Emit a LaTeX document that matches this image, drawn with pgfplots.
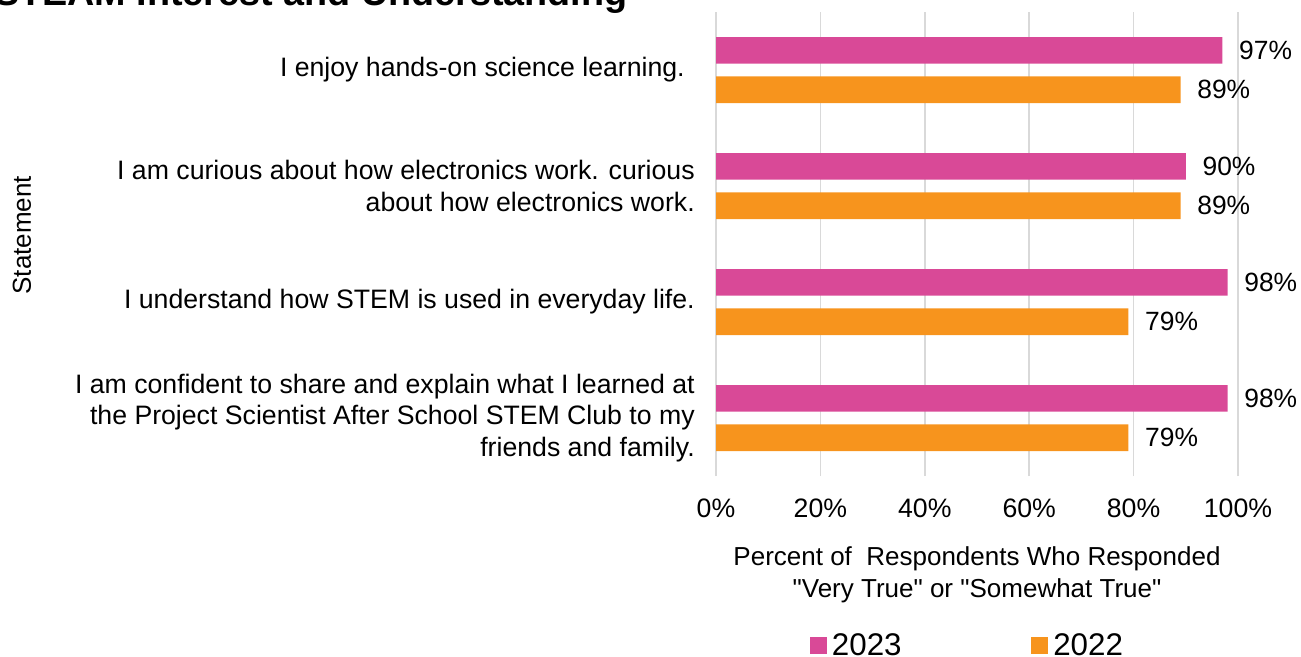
\documentclass[border=0pt]{standalone}
\usepackage{fontspec}
\setmainfont{Liberation Sans}[Ligatures=TeXOff]
\usepackage{pgfplots}
\pgfplotsset{compat=1.18}
\definecolor{pinkbar}{RGB}{217,73,151}
\definecolor{orangebar}{RGB}{247,148,29}
\definecolor{gridgray}{RGB}{217,217,217}
\begin{document}
\begin{tikzpicture}
\useasboundingbox (0,0) rectangle (975.75pt,-492pt);
\node[anchor=base west, inner sep=0pt, font=\fontsize{28.3}{34}\selectfont\bfseries] at (-4.5pt,-4.5pt) {STEAM Interest and Understanding};
\begin{axis}[
  at={(537pt,-357pt)}, anchor=south west,
  scale only axis, width=391.5pt, height=348pt,
  xbar, bar width=20pt,
  clip=false,
  xmin=0, xmax=100, ymin=-0.5, ymax=3.5,
  xtick={0,20,...,100},
  xticklabel={\pgfmathprintnumber{\tick}\%},
  /pgf/number format/assume math mode=true,
  ytick={0,1,2,3},
  yticklabels={{I am confident to share and explain what I learned at\\the Project Scientist After School STEM Club to my\\friends and family.},
               {I understand how STEM is used in everyday life.},
               {I am curious about how electronics work. curious\\about how electronics work.},
               {I enjoy hands-on science learning.\hspace*{7.5pt}}},
  yticklabel style={align=right, anchor=east, inner sep=0pt, xshift=-15.75pt, font=\fontsize{20}{23.8}\selectfont},
  xticklabel style={anchor=north, inner sep=0pt, yshift=-17pt, font=\fontsize{20}{23}\selectfont},
  major tick length=0pt,
  axis line style={draw=none},
  xmajorgrids, grid style={gridgray, line width=1.2pt},
  xlabel={Percent of~ Respondents Who Responded\\"Very True" or "Somewhat True"},
  xlabel style={at={(axis description cs:0.5,0)}, anchor=north, yshift=-53pt, align=center, inner sep=0pt, font=\fontsize{19.5}{23.5}\selectfont},
  ylabel={Statement},
  ylabel style={at={(axis description cs:-1.3295,0.519)}, anchor=center, inner sep=0pt, font=\fontsize{19.5}{23}\selectfont},
  point meta=x,
  nodes near coords={\pgfmathprintnumber{\pgfplotspointmeta}\%},
  nodes near coords style={anchor=west, inner sep=0pt, xshift=12.4pt, font=\fontsize{19.8}{23}\selectfont, text=black},
  legend columns=2,
  legend style={draw=none, fill=none, inner sep=0pt, at={(axis description cs:0.1788,0)}, anchor=north west, yshift=-115.7pt, font=\fontsize{23.5}{27}\selectfont,
    /tikz/every odd column/.append style={column sep=2pt},
    /tikz/every even column/.append style={column sep=95pt}},
]
\addplot[fill=pinkbar, draw=none, bar shift=14.75pt,
  legend image code/.code={\fill[pinkbar] (0pt,-6.4pt) rectangle (12.75pt,6.4pt);}]
  coordinates {(98,0) (98,1) (90,2) (97,3)};
\addlegendentry{2023}
\addplot[fill=orangebar, draw=none, bar shift=-14.75pt,
  legend image code/.code={\fill[orangebar] (0pt,-6.4pt) rectangle (12.75pt,6.4pt);}]
  coordinates {(79,0) (79,1) (89,2) (89,3)};
\addlegendentry{2022}
\end{axis}
\end{tikzpicture}
\end{document}
